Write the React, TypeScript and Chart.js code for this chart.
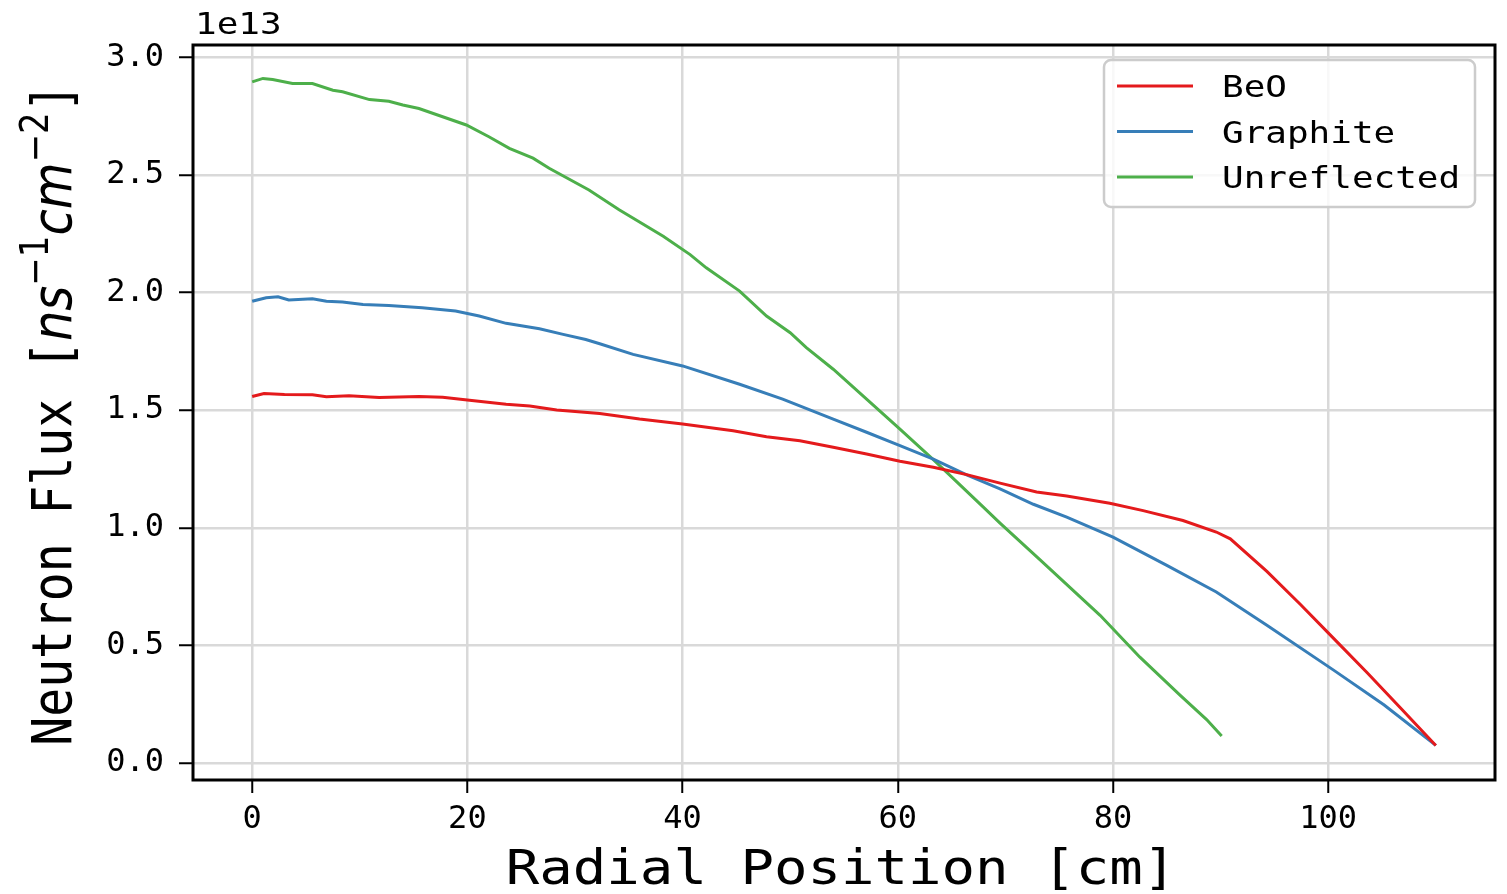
import React, { useEffect, useRef } from "react";
import { Chart, registerables } from "chart.js";

Chart.register(...registerables);

// ---------- data (flux in units of 1e13 n/s/cm^2) ----------
const BEO_X = [0, 1.1, 3, 5.6, 6.9, 9, 11.8, 15.5, 17.7, 20.2, 23.6, 25.8, 28.3, 32.3, 36, 40, 44.7, 47.8, 50.9, 54, 57.1, 60.2, 63.3, 66.4, 69.5, 72.9, 75.7, 79.7, 82.8, 86.5, 89.6, 90.9, 94.3, 97.4, 100.5, 103.6, 106.7, 110];
const BEO_Y = [1.558, 1.571, 1.567, 1.565, 1.557, 1.561, 1.554, 1.558, 1.555, 1.542, 1.525, 1.518, 1.501, 1.486, 1.462, 1.441, 1.412, 1.387, 1.37, 1.342, 1.314, 1.283, 1.257, 1.226, 1.19, 1.152, 1.135, 1.104, 1.073, 1.031, 0.982, 0.953, 0.815, 0.675, 0.53, 0.385, 0.235, 0.075];

const GRAPHITE_X = [0, 1.3, 2.4, 3.4, 5.6, 6.9, 8.4, 10.3, 12.7, 15.8, 18.9, 21.1, 23.6, 26.7, 28.9, 31, 32.3, 35.4, 40, 45.3, 49.3, 54, 57.1, 60.2, 63.3, 66.4, 69.5, 72.6, 75.7, 80, 85, 89.6, 94.3, 100.5, 105.2, 110];
const GRAPHITE_Y = [1.963, 1.978, 1.982, 1.968, 1.973, 1.963, 1.96, 1.949, 1.945, 1.935, 1.921, 1.9, 1.869, 1.846, 1.822, 1.8, 1.782, 1.737, 1.688, 1.61, 1.547, 1.462, 1.406, 1.349, 1.292, 1.225, 1.165, 1.1, 1.045, 0.96, 0.84, 0.727, 0.586, 0.395, 0.247, 0.075];

const UNREF_X = [0, 1, 1.9, 3.75, 5.6, 7.5, 8.4, 10.9, 12.7, 14, 15.5, 19.9, 22, 23.9, 26.1, 27.6, 31.3, 34.1, 38.2, 40.7, 42.2, 45.3, 47.8, 50, 51.5, 54, 57.1, 60.2, 63.3, 64.8, 67.9, 69.5, 73.2, 78.8, 82.5, 86.2, 88.7, 90.1];
const UNREF_Y = [2.895, 2.91, 2.905, 2.888, 2.888, 2.86, 2.853, 2.82, 2.813, 2.797, 2.782, 2.712, 2.662, 2.613, 2.571, 2.528, 2.436, 2.352, 2.239, 2.161, 2.105, 2.006, 1.9, 1.829, 1.766, 1.674, 1.547, 1.419, 1.29, 1.225, 1.09, 1.02, 0.865, 0.628, 0.45, 0.29, 0.185, 0.115];

const SERIES_NAMES = ["BeO", "Graphite", "Unreflected"];
const SERIES_COLORS = ["#e41a1c", "#377eb8", "#4daf4a"];

const X_TICKS = [0, 20, 40, 60, 80, 100];
const Y_TICKS = [0, 0.5, 1.0, 1.5, 2.0, 2.5, 3.0];
const X_RANGE = [-5.5, 115.5];
const Y_RANGE = [-0.072, 3.052];

const OFFSET_TEXT = "1e13";
const X_TITLE = "Radial Position [cm]";

const MONO = "'DejaVu Sans Mono'";
const SANS = "'DejaVu Sans'";
const TICK_FONT = 32;
const SX = 1.16; // horizontal stretch of the reference

const toPoints = (xs: number[], ys: number[]) => xs.map((x, i) => ({ x, y: ys[i] }));

const decorations = {
  id: "decorations",
  afterDraw(chart: any) {
    const { ctx, chartArea: a } = chart;
    ctx.save();

    // axes frame
    ctx.strokeStyle = "#000";
    ctx.lineWidth = 3;
    ctx.strokeRect(a.left, a.top, a.right - a.left, a.bottom - a.top);

    ctx.fillStyle = "#000";

    // offset text
    ctx.save();
    ctx.font = `${TICK_FONT - 1}px ${MONO}`;
    ctx.textAlign = "left";
    ctx.textBaseline = "alphabetic";
    ctx.translate(a.left + 2, a.top - 11);
    ctx.scale(SX, 1);
    ctx.fillText(OFFSET_TEXT, 0, 0);
    ctx.restore();

    // x title
    ctx.save();
    ctx.font = `48px ${MONO}`;
    ctx.textAlign = "center";
    ctx.textBaseline = "alphabetic";
    ctx.translate((a.left + a.right) / 2 - 3, 884);
    ctx.scale(SX, 1);
    ctx.fillText(X_TITLE, 0, 0);
    ctx.restore();

    // y title with math-text pieces
    const F = 48;
    const segs = [
      { t: "Neutron Flux [", f: `${F}px ${MONO}`, dy: 0 },
      { t: "ns", f: `oblique ${F}px ${SANS}`, dy: 0 },
      { t: "\u22121", f: `${Math.round(F * 0.7)}px ${SANS}`, dy: -F * 0.42 },
      { t: "cm", f: `oblique ${F}px ${SANS}`, dy: 0 },
      { t: "\u22122", f: `${Math.round(F * 0.7)}px ${SANS}`, dy: -F * 0.42 },
      { t: "]", f: `${F}px ${MONO}`, dy: 0 },
    ];
    let total = 0;
    const widths = segs.map((s) => {
      ctx.font = s.f;
      const w = ctx.measureText(s.t).width;
      total += w;
      return w;
    });
    ctx.save();
    ctx.translate(71, (a.top + a.bottom) / 2 + 2);
    ctx.rotate(-Math.PI / 2);
    ctx.scale(1, 1.15);
    ctx.textAlign = "left";
    ctx.textBaseline = "alphabetic";
    let cx = -total / 2;
    segs.forEach((s, i) => {
      ctx.font = s.f;
      ctx.fillText(s.t, cx, s.dy);
      cx += widths[i];
    });
    ctx.restore();

    // legend
    const lx = a.right - 391;
    const ly = a.top + 15;
    const lw = 371;
    const lh = 147;
    ctx.save();
    ctx.beginPath();
    (ctx as any).roundRect(lx, ly, lw, lh, 7);
    ctx.fillStyle = "rgba(255,255,255,0.8)";
    ctx.fill();
    ctx.strokeStyle = "#cccccc";
    ctx.lineWidth = 2.5;
    ctx.stroke();
    SERIES_NAMES.forEach((name, i) => {
      const yy = ly + 26 + i * 45.5;
      ctx.strokeStyle = SERIES_COLORS[i];
      ctx.lineWidth = 3;
      ctx.beginPath();
      ctx.moveTo(lx + 13, yy);
      ctx.lineTo(lx + 89, yy);
      ctx.stroke();
      ctx.save();
      ctx.fillStyle = "#000";
      ctx.font = `31px ${MONO}`;
      ctx.textAlign = "left";
      ctx.textBaseline = "alphabetic";
      ctx.translate(lx + 118, yy + 11);
      ctx.scale(SX, 1);
      ctx.fillText(name, 0, 0);
      ctx.restore();
    });
    ctx.restore();

    ctx.restore();
  },
};

export default function App() {
  const ref = useRef<HTMLCanvasElement | null>(null);

  useEffect(() => {
    if (!ref.current) return;
    Chart.defaults.font.family = MONO;
    Chart.defaults.color = "#000";
    const xs = [BEO_X, GRAPHITE_X, UNREF_X];
    const ys = [BEO_Y, GRAPHITE_Y, UNREF_Y];
    const gridColor = "#d9d9d9";
    const chart = new Chart(ref.current, {
      type: "line",
      data: {
        datasets: SERIES_NAMES.map((name, i) => ({
          label: name,
          data: toPoints(xs[i], ys[i]),
          borderColor: SERIES_COLORS[i],
          backgroundColor: SERIES_COLORS[i],
          borderWidth: 3,
          pointRadius: 0,
          tension: 0,
          fill: false,
        })),
      },
      options: {
        responsive: false,
        animation: false,
        devicePixelRatio: 1,
        layout: { padding: { top: 45, right: 12, left: 0, bottom: 0 } },
        plugins: {
          legend: { display: false },
          tooltip: { enabled: false },
        },
        scales: {
          x: {
            type: "linear",
            min: X_RANGE[0],
            max: X_RANGE[1],
            afterBuildTicks: (s: any) => {
              s.ticks = X_TICKS.map((v) => ({ value: v }));
            },
            afterFit: (s: any) => {
              s.height = 114;
            },
            ticks: {
              font: { size: TICK_FONT, family: MONO },
              color: "#000",
              padding: 7,
              maxRotation: 0,
              callback: (v: any) => String(v),
            },
            grid: {
              color: gridColor,
              lineWidth: 2.5,
              drawTicks: true,
              tickLength: 13,
              tickColor: "#000",
              tickWidth: 2,
            },
            border: { display: false },
          },
          y: {
            type: "linear",
            min: Y_RANGE[0],
            max: Y_RANGE[1],
            afterBuildTicks: (s: any) => {
              s.ticks = Y_TICKS.map((v) => ({ value: v }));
            },
            afterFit: (s: any) => {
              s.width = 193;
            },
            ticks: {
              font: { size: TICK_FONT, family: MONO },
              color: "#000",
              padding: 15,
              callback: (v: any) => Number(v).toFixed(1),
            },
            grid: {
              color: gridColor,
              lineWidth: 2.5,
              drawTicks: true,
              tickLength: 14,
              tickColor: "#000",
              tickWidth: 2,
            },
            border: { display: false },
          },
        },
      },
      plugins: [decorations],
    });
    return () => chart.destroy();
  }, []);

  return (
    <div style={{ position: "fixed", left: 0, top: 0, width: 1507, height: 894, background: "#fff" }}>
      <canvas ref={ref} width={1507} height={894} style={{ display: "block" }} />
    </div>
  );
}
